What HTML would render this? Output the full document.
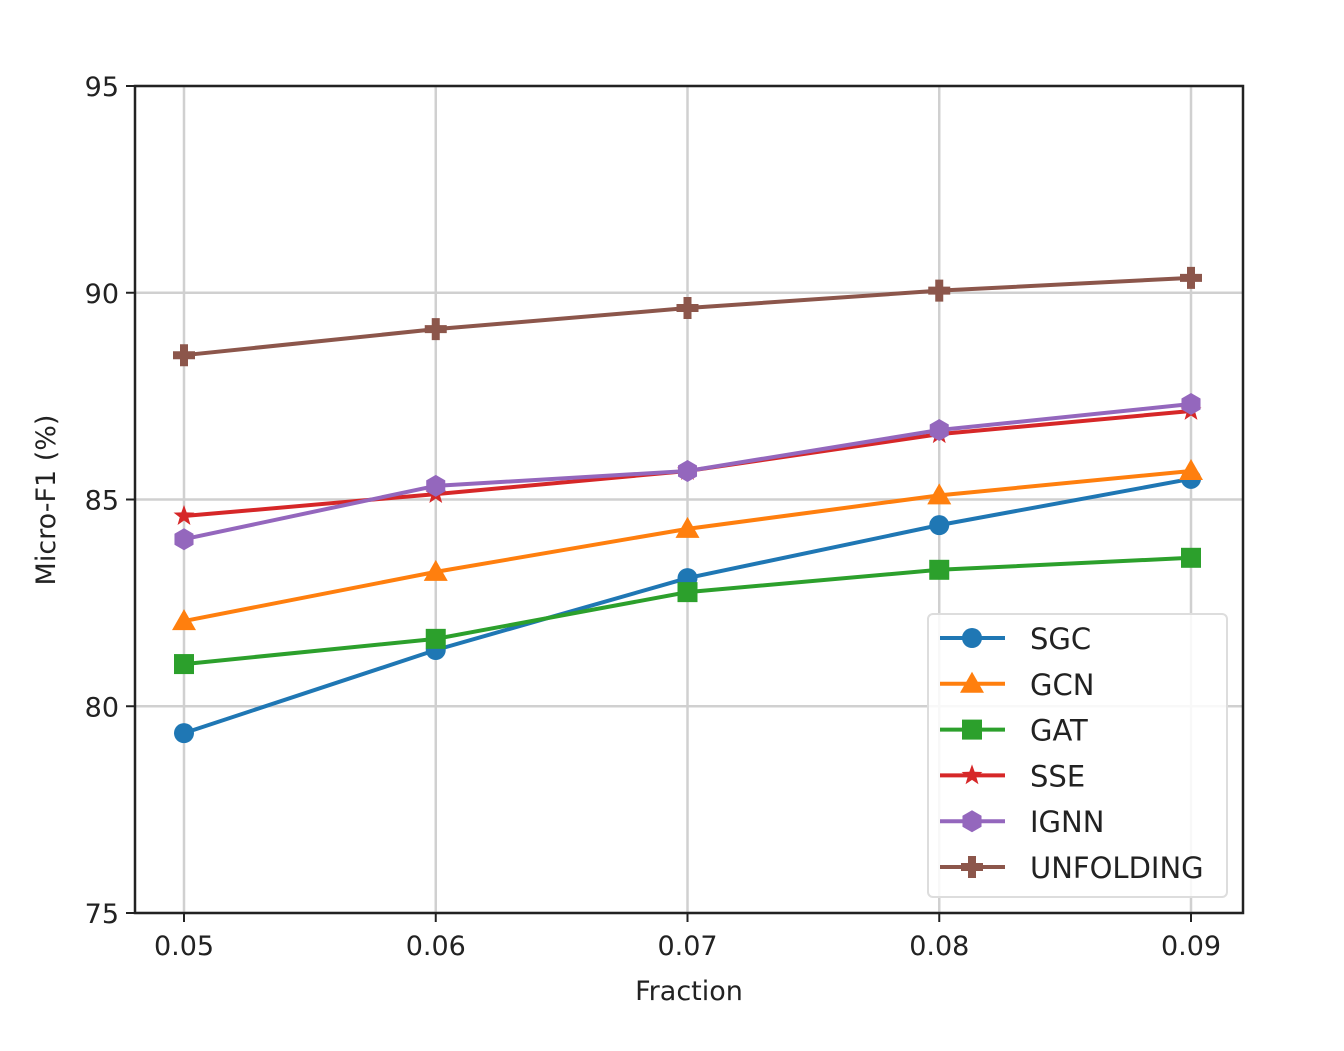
<!DOCTYPE html>
<html><head><meta charset="utf-8"><style>
body{margin:0;background:#fff;width:1344px;height:1046px;overflow:hidden}
svg text{font-family:"DejaVu Sans","Liberation Sans",sans-serif;fill:#222}
</style></head><body>
<svg id="chart" width="1344" height="1046" xmlns="http://www.w3.org/2000/svg"></svg>
<script>
const categories=[0.05,0.06,0.07,0.08,0.09];
const xTickLabels=["0.05","0.06","0.07","0.08","0.09"];
const yTicks=[75,80,85,90,95];
const sgc=[79.35,81.36,83.1,84.38,85.5];
const gcn=[82.06,83.25,84.29,85.1,85.69];
const gat=[81.02,81.63,82.76,83.3,83.59];
const sse=[84.6,85.13,85.69,86.58,87.14];
const ignn=[84.04,85.33,85.69,86.68,87.31];
const unfolding=[88.49,89.12,89.63,90.05,90.36];
const seriesNames=["SGC","GCN","GAT","SSE","IGNN","UNFOLDING"];
const seriesData=[sgc,gcn,gat,sse,ignn,unfolding];
const colors=["#1f77b4","#ff7f0e","#2ca02c","#d62728","#9467bd","#8c564b"];
const markers=["circle","triangle","square","star","hexagon","plus"];

const NS="http://www.w3.org/2000/svg";
const svg=document.getElementById('chart');
const L=135,R=1243,T=86,B=913;
const x=v=>184+(v-0.05)/0.04*(1191-184);
const y=v=>B-(v-75)/20*(B-T);
function mk(tag,attrs,parent){const e=document.createElementNS(NS,tag);for(const k in attrs)e.setAttribute(k,attrs[k]);(parent||svg).appendChild(e);return e;}

const grid=mk('g',{});


categories.forEach(c=>mk('line',{x1:x(c),x2:x(c),y1:T,y2:B,stroke:'#d0d0d0','stroke-width':2.5},grid));
yTicks.forEach(t=>mk('line',{x1:L,x2:R,y1:y(t),y2:y(t),stroke:'#d0d0d0','stroke-width':2.5},grid));

const xa=mk('g',{});


categories.forEach((c,i)=>{mk('line',{x1:x(c),x2:x(c),y1:B,y2:B+9,stroke:'#222','stroke-width':2},xa);
const t=mk('text',{x:x(c),y:B+42,'text-anchor':'middle','font-size':27},xa);t.textContent=xTickLabels[i];});
const ya=mk('g',{});


yTicks.forEach(v=>{mk('line',{x1:L-9,x2:L,y1:y(v),y2:y(v),stroke:'#222','stroke-width':2},ya);
const t=mk('text',{x:L-16,y:y(v)+10,'text-anchor':'end','font-size':27},ya);t.textContent=v;});
const xt=mk('text',{x:(L+R)/2,y:1000,'text-anchor':'middle','font-size':27});


xt.textContent='Fraction';
const yt=mk('text',{x:0,y:0,'text-anchor':'middle','font-size':27,transform:'translate(55,500) rotate(-90)'});


yt.textContent='Micro-F1 (%)';

function marker(type,cx,cy,color,g){
 if(type==='circle')mk('circle',{cx,cy,r:10,fill:color},g);
 else if(type==='triangle')mk('polygon',{points:`${cx},${cy-12} ${cx+12},${cy+9} ${cx-12},${cy+9}`,fill:color},g);
 else if(type==='square')mk('rect',{x:cx-10,y:cy-10,width:20,height:20,fill:color},g);
 else if(type==='star'){let p=[];for(let i=0;i<10;i++){const r=i%2?4.5:11,a=-Math.PI/2+i*Math.PI/5;p.push((cx+r*Math.cos(a))+','+(cy+r*Math.sin(a)));}mk('polygon',{points:p.join(' '),fill:color},g);}
 else if(type==='hexagon'){let p=[];for(let i=0;i<6;i++){const a=-Math.PI/2+i*Math.PI/3;p.push((cx+11*Math.cos(a))+','+(cy+11*Math.sin(a)));}mk('polygon',{points:p.join(' '),fill:color},g);}
 else {mk('path',{d:`M${cx-4} ${cy-11}h8v7h7v8h-7v7h-8v-7h-7v-8h7z`,fill:color},g);}
}
seriesData.forEach((d,si)=>{
 const g=mk('g',{});
 
 
 mk('polyline',{points:d.map((v,i)=>x(categories[i])+','+y(v)).join(' '),fill:'none',stroke:colors[si],'stroke-width':4},g);
 d.forEach((v,i)=>marker(markers[si],x(categories[i]),y(v),colors[si],g));
});
mk('rect',{x:L,y:T,width:R-L,height:B-T,fill:'none',stroke:'#222','stroke-width':2.5});

const lg=mk('g',{});


mk('rect',{x:928,y:614,width:299,height:283,rx:5,fill:'#fff','fill-opacity':0.85,stroke:'#ddd','stroke-width':2},lg);
seriesNames.forEach((n,i)=>{
 const e=mk('g',{},lg);
 
 
 const yy=638+i*45.8;
 mk('line',{x1:940,x2:1005,y1:yy,y2:yy,stroke:colors[i],'stroke-width':4},e);
 marker(markers[i],972,yy,colors[i],e);
 const t=mk('text',{x:1030,y:yy+11,'font-size':29},e);t.textContent=n;
});
</script>
</body></html>
